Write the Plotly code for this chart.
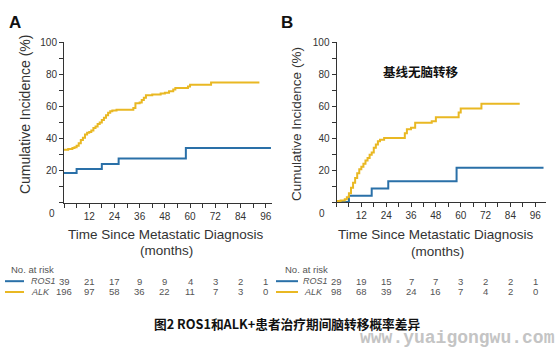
import plotly.graph_objects as go

# ---------------- data ----------------
# Panel A (all patients)
a_ros1_t = [0, 6, 18, 26, 58, 98.5]
a_ros1_v = [18.4, 21, 24, 27.5, 34, 34]
a_alk_t = [0, 2, 4, 5, 6, 7, 8, 9, 10, 11, 12, 13, 14, 15, 16, 17, 18, 19, 20, 21, 22, 23, 25,
           32, 33, 34, 36, 37, 38, 39, 40, 42, 46, 48, 50, 52, 53, 58, 59, 60, 70, 93]
a_alk_v = [33, 33.5, 34, 34.5, 35.5, 37, 39, 40.5, 42.5, 43.5, 44, 45, 46.5, 47.5, 49, 50, 51.5, 53, 54.5, 56, 57, 57.5, 58,
           58, 59, 62, 62.5, 64, 65.5, 67, 67, 67.5, 68, 68.5, 69.5, 70.5, 71.5, 71.5, 72.5, 73.5, 75, 75]

# Panel B (no baseline brain metastases)
b_ros1_t = [0, 6, 17, 25, 58, 100]
b_ros1_v = [0, 4, 8.5, 13, 21.5, 21.5]
b_alk_t = [0, 2, 4, 5, 6, 7, 8, 9, 10, 11, 12, 13, 14, 15, 16, 17, 18, 19, 20, 21, 23,
           32, 33, 34, 36, 38, 46, 48, 58, 59, 60, 70, 88.5]
b_alk_v = [0.7, 1, 1.7, 3, 5.5, 9, 12, 15, 18, 20.5, 22, 24, 26, 27.5, 29.5, 31, 34, 36, 38, 39, 40,
           40, 43, 45.5, 46.5, 49.5, 50.5, 53, 53, 56, 58.5, 61.5, 61.5]

risk_months = [0, 12, 24, 36, 48, 60, 72, 84, 96]
risk_a_ros1 = [39, 21, 17, 9, 9, 4, 3, 2, 1]
risk_a_alk = [196, 97, 58, 36, 22, 11, 7, 3, 0]
risk_b_ros1 = [29, 19, 15, 7, 7, 3, 2, 2, 1]
risk_b_alk = [98, 68, 39, 24, 16, 7, 4, 2, 0]

x_tick_vals = [12, 24, 36, 48, 60, 72, 84, 96]
y_tick_vals = [20, 40, 60, 80, 100]

BLUE = "#2a70a8"
YELLOW = "#e9b823"
AX = "#333333"
GRAY = "#555555"
SANS = "Liberation Sans, Arial, sans-serif"
CJK = "Noto Sans CJK SC, sans-serif"

W, H = 558, 349


def px(x):
    return x / W


def py(y):
    return 1 - y / H


fig = go.Figure()
fig.add_trace(go.Scatter(x=a_ros1_t, y=a_ros1_v, mode="lines", line=dict(color=BLUE, width=2, shape="hv"),
                         xaxis="x", yaxis="y", showlegend=False))
fig.add_trace(go.Scatter(x=a_alk_t, y=a_alk_v, mode="lines", line=dict(color=YELLOW, width=2, shape="hv"),
                         xaxis="x", yaxis="y", showlegend=False))
fig.add_trace(go.Scatter(x=b_ros1_t, y=b_ros1_v, mode="lines", line=dict(color=BLUE, width=2, shape="hv"),
                         xaxis="x2", yaxis="y2", showlegend=False))
fig.add_trace(go.Scatter(x=b_alk_t, y=b_alk_v, mode="lines", line=dict(color=YELLOW, width=2, shape="hv"),
                         xaxis="x2", yaxis="y2", showlegend=False))


def xaxis_cfg(domain, rng, anchor):
    return dict(domain=domain, range=rng, anchor=anchor, showline=True, linecolor=AX, linewidth=1,
                showgrid=False, zeroline=False, ticks="outside", ticklen=4, tickcolor=AX,
                tickvals=x_tick_vals, tickfont=dict(family=SANS, size=10, color=AX),
                minor=dict(dtick=6, tick0=0, ticks="outside", ticklen=4, tickcolor=AX, showgrid=False))


def yaxis_cfg(domain, anchor):
    return dict(domain=domain, range=[0, 100], anchor=anchor, showline=True, linecolor=AX, linewidth=1,
                showgrid=False, zeroline=False, ticks="outside", ticklen=4, tickcolor=AX,
                tickvals=y_tick_vals, tickfont=dict(family=SANS, size=10, color=AX),
                minor=dict(dtick=10, tick0=0, ticks="outside", ticklen=4, tickcolor=AX, showgrid=False))


fig.update_layout(
    width=W, height=H, margin=dict(l=0, r=0, t=0, b=0),
    paper_bgcolor="white", plot_bgcolor="white",
    xaxis=xaxis_cfg([px(64), px(272)], [0, 99], "y"),
    yaxis=yaxis_cfg([py(200), py(37)], "x"),
    xaxis2=xaxis_cfg([px(336.5), px(545.6)], [0, 101], "y2"),
    yaxis2=yaxis_cfg([py(199.5), py(36.7)], "x2"),
)

ann = []


def text(x, y, s, size, family=SANS, color=AX, bold=False, xanchor="center", angle=0, xref="paper"):
    if bold:
        s = "<b>" + s + "</b>"
    ann.append(dict(x=x, y=py(y), xref=xref, yref="paper", text=s, showarrow=False, xanchor=xanchor,
                    yanchor="middle", textangle=angle, font=dict(family=family, size=size, color=color)))


# panel letters
text(px(15), 17, "A", 17, color="#111", bold=True)
text(px(287), 17, "B", 17, color="#111", bold=True)
# y titles
text(px(25), 110, "Cumulative Incidence (%)", 14)
ann[-1]["textangle"] = -90
text(px(297), 120, "Cumulative Incidence (%)", 13.5)
ann[-1]["textangle"] = -90
# origin zeros
text(px(52), 211, "0", 10)
text(px(322), 211, "0", 10)
# x titles
text(px(165.5), 232, "Time Since Metastatic Diagnosis", 13.5)
text(px(166), 249, "(months)", 13.5)
text(px(436), 232, "Time Since Metastatic Diagnosis", 13.5)
text(px(437), 250, "(months)", 13.5)
# panel B annotation
text(px(421), 67, "基线无脑转移", 12.5, family=CJK, color="#111", bold=True)

# risk tables
text(px(9), 268, "No. at risk", 9.5, color=GRAY, xanchor="left")
text(px(29), 280, "<i>ROS1</i>", 9, color=GRAY, xanchor="left")
text(px(29), 291, "<i>ALK</i>", 9, color=GRAY, xanchor="left")
text(px(283), 268, "No. at risk", 9.5, color=GRAY, xanchor="left")
text(px(301), 280, "<i>ROS1</i>", 9, color=GRAY, xanchor="left")
text(px(302), 291, "<i>ALK</i>", 9, color=GRAY, xanchor="left")
for m, r1, r2 in zip(risk_months, risk_a_ros1, risk_a_alk):
    text(m, 280, str(r1), 9.5, color=GRAY, xref="x")
    text(m, 291, str(r2), 9.5, color=GRAY, xref="x")
for m, r1, r2 in zip(risk_months, risk_b_ros1, risk_b_alk):
    text(m, 280, str(r1), 9.5, color=GRAY, xref="x2")
    text(m, 291, str(r2), 9.5, color=GRAY, xref="x2")

# caption and watermark
text(px(286.5), 323, "图2 ROS1和ALK+患者治疗期间脑转移概率差异", 12.7, family=CJK, color="#111", bold=True)
text(px(457), 338, "www.yuaigongwu.com", 18, family="Liberation Mono, DejaVu Sans Mono, monospace",
     color="#c4c4c4", bold=True)

fig.update_layout(annotations=ann)

shapes = []
for x0, x1 in [(5, 24), (276, 298)]:
    shapes.append(dict(type="line", xref="paper", yref="paper", x0=px(x0), x1=px(x1), y0=py(280), y1=py(280),
                       line=dict(color=BLUE, width=2)))
    shapes.append(dict(type="line", xref="paper", yref="paper", x0=px(x0), x1=px(x1), y0=py(291), y1=py(291),
                       line=dict(color=YELLOW, width=2)))
fig.update_layout(shapes=shapes)

fig.write_html("out.html")
